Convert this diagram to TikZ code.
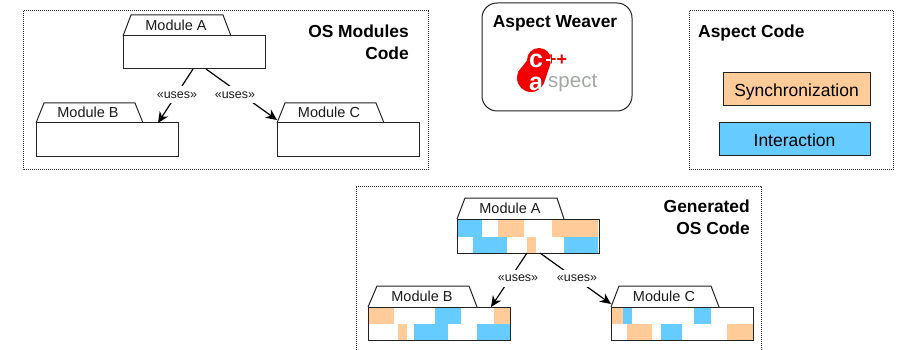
\documentclass[tikz,border=0pt]{standalone}
\usepackage{fontspec}
\setmainfont{Liberation Sans}
\usetikzlibrary{calc,arrows.meta}
\definecolor{orangec}{HTML}{FFCC99}
\definecolor{bluec}{HTML}{66CCFF}
\definecolor{spectgray}{HTML}{A3A8A3}
\definecolor{lineg}{HTML}{222222}
\definecolor{logored}{HTML}{F00000}
\newcommand{\fsz}[1]{\fontsize{#1}{#1}\selectfont}
\tikzset{
  frame/.style={draw=black!85,line width=1pt,dash pattern=on 1pt off 1pt},
  modbox/.style={draw=lineg,line width=1pt,minimum width=142pt,minimum height=34pt,inner sep=0pt,outer sep=0pt,anchor=north west},
  modtab/.style={draw=lineg,line width=1pt},
  modlabel/.style={font=\fsz{14.5},text=black!90,inner sep=0pt},
  uses/.style={font=\fsz{12.5},text=black!90,fill=white,inner sep=0pt,minimum height=17pt,minimum width=40pt},
  conn/.style={draw=black,line width=1.2pt},
  arr/.style={conn,-{Stealth[length=11pt,width=10pt]}},
  title/.style={font=\bfseries\fsz{17.4},inner sep=0pt,align=right},
  aspectbox/.style={draw=lineg,line width=1pt,inner sep=0pt,outer sep=0pt,anchor=north west,font=\fsz{17.5},text height=16pt,text depth=2.4pt},
  org/.style={fill=orangec},
  blu/.style={fill=bluec},
}
\begin{document}
\begin{tikzpicture}[x=1pt,y=-1pt]
\useasboundingbox (0,0) rectangle (897,350);
% frames
\draw[frame] (23,11) rectangle (428,170);
\draw[frame] (689.5,11) rectangle (893,170);
\draw[frame] (356,350) -- (356,186) -- (761,186) -- (761,350);
\draw[draw=lineg,line width=1pt,rounded corners=15pt] (482,3) rectangle (632,111);
% titles
\node[title,anchor=north east] (t1) at (409,24.5) {OS Modules\\[4.5pt]Code};
\node[title,anchor=west] (t2) at (698,33) {Aspect Code};
\node[title] (t3) at (555,23.5) {Aspect Weaver};
\node[title,anchor=north east] (t4) at (750,199.5) {Generated\\[4.5pt]OS Code};
% logo
\fill[logored] (539,60) circle (12);
\fill[logored] (531,78) circle (14);
\fill[logored] (529,58) -- (550,65) -- (545,80) -- (518,72) -- cycle;
\node[font=\bfseries\fsz{18},text=logored,inner sep=0pt] (lp) at (556.5,60) {++};
\begin{scope}
\clip (539,60) circle (12);
\draw[white,line width=2pt] (546,60.5) -- (556,60.5) (550.5,55.5) -- (550.5,65.5);
\end{scope}
\node[font=\bfseries\fsz{25},text=white,inner sep=0pt] (lc) at (536,61) {c};
\node[font=\bfseries\fsz{25},text=white,inner sep=0pt] (la) at (536,84) {a};
\node[font=\fsz{20.5},text=spectgray,inner sep=0pt,anchor=base west] (ls) at (548,88) {spect};
% aspect boxes
\node[aspectbox,org,minimum width=147pt,minimum height=33pt] (sync) at (723,73) {Synchronization};
\node[aspectbox,blu,minimum width=151pt,minimum height=33pt] (inter) at (719,123) {Interaction};
% top modules
\node[modbox,minimum height=33pt] (mA) at (123,36) {};
\draw[modtab] (mA.north west) -- ++(8,-21) -- ++(92,0) -- ++(8,21);
\node[modlabel] (lA) at (176,25) {Module A};
\node[modbox] (mB) at (36,123) {};
\draw[modtab] (mB.north west) -- ++(8,-20) -- ++(91,0) -- ++(8,20);
\node[modlabel] (lB) at (88,112) {Module B};
\node[modbox] (mC) at (277,123) {};
\draw[modtab] (mC.north west) -- ++(8,-20) -- ++(91,0) -- ++(8,20);
\node[modlabel] (lC) at (329,112) {Module C};
\draw[arr] ([xshift=-1pt]mA.south) -- ([xshift=-20pt]mB.north east);
\draw[arr] ([xshift=12pt]mA.south) -- ([yshift=3pt]mC.north west);
\node[uses] (uA) at (177,95) {«uses»};
\node[uses] (uB) at (235,95) {«uses»};
% generated A
\fill[blu] (457,219) rectangle (482,237);
\fill[org] (498,219) rectangle (524,237);
\fill[org] (552,219) rectangle (598,237);
\fill[blu] (473,237) rectangle (507,253);
\fill[org] (527,237) rectangle (536,253);
\fill[blu] (564,237) rectangle (598,253);
\node[modbox] (gA) at (457,219) {};
\draw[modtab] (gA.north west) -- ++(8,-21) -- ++(92,0) -- ++(7,21);
\node[modlabel] (glA) at (510,208) {Module A};
% generated B
\fill[org] (368,307) rectangle (394,324);
\fill[blu] (435,307) rectangle (461,324);
\fill[org] (494,307) rectangle (510,324);
\fill[org] (398,324) rectangle (407,340);
\fill[blu] (414,324) rectangle (448,340);
\fill[blu] (477,324) rectangle (510,340);
\node[modbox,minimum height=33pt] (gB) at (368,307) {};
\draw[modtab] (gB.north west) -- ++(9,-21) -- ++(92,0) -- ++(8,21);
\node[modlabel] (glB) at (422,296) {Module B};
% generated C
\fill[org] (611,307) rectangle (623,324);
\fill[blu] (623,307) rectangle (632,324);
\fill[blu] (694,307) rectangle (711,324);
\fill[org] (627,324) rectangle (652,340);
\fill[blu] (661,324) rectangle (682,340);
\fill[org] (727,324) rectangle (753,340);
\node[modbox,minimum height=33pt] (gC) at (611,307) {};
\draw[modtab] (gC.north west) -- ++(8,-21) -- ++(92,0) -- ++(8,21);
\node[modlabel] (glC) at (664,296) {Module C};
\draw[arr] ([xshift=-1pt]gA.south) -- ([xshift=-19pt]gB.north east);
\draw[arr] ([xshift=12pt]gA.south) -- ([yshift=3pt]gC.north west);
\node[uses] (uC) at (518,278) {«uses»};
\node[uses] (uD) at (577,278) {«uses»};
\end{tikzpicture}
\end{document}
